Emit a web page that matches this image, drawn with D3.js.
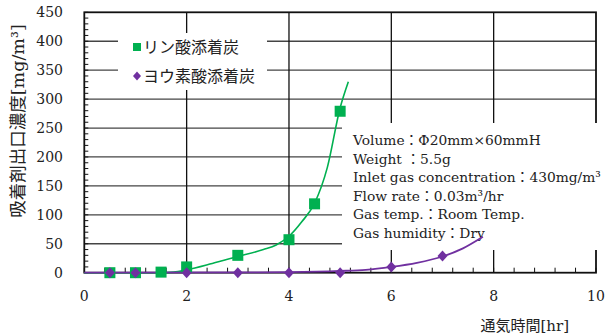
<!DOCTYPE html>
<html>
<head>
<meta charset="utf-8">
<script src="https://cdn.jsdelivr.net/npm/d3@7"></script>
<style>
  html, body { margin: 0; padding: 0; background: #fff; }
  svg { display: block; }
  text { font-family: "DejaVu Serif", "Noto Sans CJK JP", serif; fill: #222; }
</style>
</head>
<body>
<svg id="chart" width="616" height="336"></svg>
<script>
// Breakthrough measurements (time [hr], outlet concentration [mg/m3])
const phosphoricTime  = [0.5, 1.0, 1.5, 2, 3, 4, 4.5, 5];
const phosphoricConc  = [0, 0, 1, 10, 30, 57, 119, 279];
const iodineTime      = [0.5, 1.0, 2, 3, 4, 5, 6, 7];
const iodineConc      = [0, 0, 0, 0, 0, 0, 10, 29];

// Trend lines (time, concentration)
const phosphoricTrendTime = [0, 1.5, 1.75, 2, 2.5, 3, 3.5, 3.75, 4, 4.25, 4.5, 4.75, 5, 5.16];
const phosphoricTrendConc = [0, 0, 1, 5, 16, 28, 40, 48, 63, 88, 120, 182, 285, 330];
const iodineTrendTime = [0, 3, 4, 5, 5.5, 6, 6.5, 7, 7.4, 7.79];
const iodineTrendConc = [0, 0.5, 1, 3, 5, 10, 17, 28, 42, 62];

const seriesNames = ["リン酸添着炭", "ヨウ素酸添着炭"];
const xTicks = [0, 2, 4, 6, 8, 10];
const yTicks = [0, 50, 100, 150, 200, 250, 300, 350, 400, 450];
const xTitle = "通気時間[hr]";
const yTitle = "吸着剤出口濃度[mg/m³]";
const conditions = [
  "Volume：Φ20mm×60mmH",
  "Weight ：5.5g",
  "Inlet gas concentration：430mg/m³",
  "Flow rate：0.03m³/hr",
  "Gas temp.：Room Temp.",
  "Gas humidity：Dry"
];

const green = "#00b050", purple = "#7030a0";
const svg = d3.select("#chart");
const x = d3.scaleLinear().domain([0, 10]).range([84.3, 596]);
const y = d3.scaleLinear().domain([0, 450]).range([272.7, 12.3]);

// grid
svg.append("g").selectAll("line").data(yTicks.filter(v => v > 0 && v < 450)).join("line")
  .attr("x1", x(0)).attr("x2", x(10)).attr("y1", d => y(d)).attr("y2", d => y(d))
  .attr("stroke", "#444").attr("stroke-width", 1.3);
svg.append("g").selectAll("line").data(xTicks.filter(v => v > 0 && v < 10)).join("line")
  .attr("x1", d => x(d)).attr("x2", d => x(d)).attr("y1", y(0)).attr("y2", y(450))
  .attr("stroke", "#111").attr("stroke-width", 1.3);

// minor ticks (inward)
svg.append("g").selectAll("line").data(d3.range(0, 451, 10)).join("line")
  .attr("x1", x(0)).attr("x2", x(0) + 4).attr("y1", d => y(d)).attr("y2", d => y(d))
  .attr("stroke", "#111").attr("stroke-width", 1);
svg.append("g").selectAll("line").data(d3.range(0, 10.01, 0.4)).join("line")
  .attr("x1", d => x(d)).attr("x2", d => x(d)).attr("y1", y(0)).attr("y2", y(0) - 5)
  .attr("stroke", "#111").attr("stroke-width", 1);

// frame
svg.append("rect").attr("x", x(0)).attr("y", y(450))
  .attr("width", x(10) - x(0)).attr("height", y(0) - y(450))
  .attr("fill", "none").attr("stroke", "#111").attr("stroke-width", 1.8);

// tick labels
svg.append("g").selectAll("text").data(yTicks).join("text")
  .attr("x", 63).attr("y", d => y(d)).attr("dy", "0.36em")
  .attr("text-anchor", "end").attr("font-size", 14).text(d => d);
svg.append("g").selectAll("text").data(xTicks).join("text")
  .attr("x", d => x(d)).attr("y", 301)
  .attr("text-anchor", "middle").attr("font-size", 14).text(d => d);

// axis titles
svg.append("text").attr("transform", "translate(24,121) rotate(-90)")
  .attr("text-anchor", "middle").attr("font-size", 17.5).text(yTitle);
svg.append("text").attr("x", 569).attr("y", 331)
  .attr("text-anchor", "end").attr("font-size", 15).text(xTitle);

// legend panel
svg.append("rect").attr("x", 118).attr("y", 33).attr("width", 149).attr("height", 57).attr("fill", "#fff");
// conditions panel
svg.append("rect").attr("x", 342).attr("y", 123).attr("width", 274).attr("height", 127).attr("fill", "#fff");
svg.append("g").selectAll("text").data(conditions).join("text")
  .attr("x", 353).attr("y", (d, i) => 145 + i * 18.6)
  .attr("font-size", 13.8).text(d => d);

const diamond = r => `M0,${-r * 1.1}L${r},0L0,${r * 1.1}L${-r},0Z`;

// legend entries
const legendY = [47, 76];
svg.append("rect").attr("x", 133).attr("y", legendY[0] - 4).attr("width", 8).attr("height", 8).attr("fill", green);
svg.append("path").attr("d", diamond(4)).attr("transform", `translate(137,${legendY[1]})`).attr("fill", purple);
svg.append("g").selectAll("text").data(seriesNames).join("text")
  .attr("x", 143).attr("y", (d, i) => legendY[i]).attr("dy", "0.36em")
  .attr("font-size", 16).text(d => d);

// trend lines
const line = d3.line().x(d => x(d[0])).y(d => y(d[1])).curve(d3.curveMonotoneX);
svg.append("path").datum(d3.zip(phosphoricTrendTime, phosphoricTrendConc))
  .attr("d", line).attr("fill", "none").attr("stroke", green).attr("stroke-width", 1.6);
svg.append("path").datum(d3.zip(iodineTrendTime, iodineTrendConc))
  .attr("d", line).attr("fill", "none").attr("stroke", purple).attr("stroke-width", 1.8);

// markers
svg.append("g").selectAll("rect").data(d3.zip(phosphoricTime, phosphoricConc)).join("rect")
  .attr("x", d => x(d[0]) - 5.5).attr("y", d => y(d[1]) - 5.5)
  .attr("width", 11).attr("height", 11).attr("fill", green);
svg.append("g").selectAll("path").data(d3.zip(iodineTime, iodineConc)).join("path")
  .attr("d", diamond(5)).attr("transform", d => `translate(${x(d[0])},${y(d[1])})`)
  .attr("fill", purple);
</script>
</body>
</html>
